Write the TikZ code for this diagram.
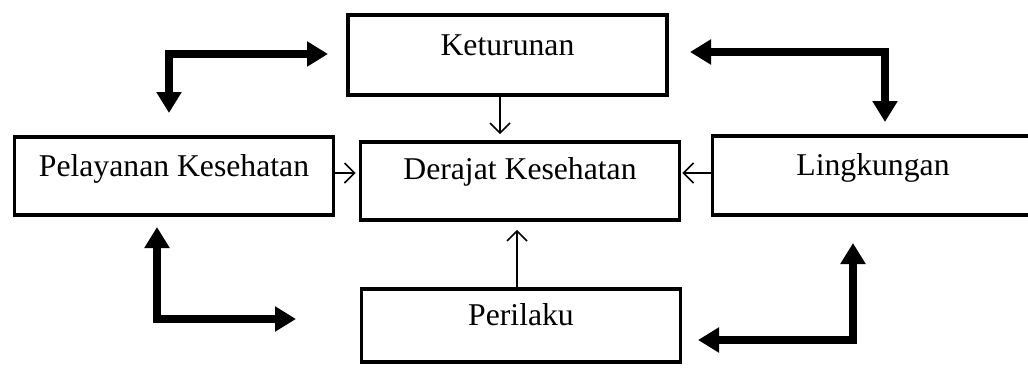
\documentclass[tikz,border=0pt]{standalone}
\usepackage{fontspec}
\setmainfont{Liberation Serif}
\usetikzlibrary{arrows.meta}
\begin{document}
\begin{tikzpicture}[x=1pt,y=-1pt,
  box/.style={draw, line width=3.6pt, rectangle, inner sep=0pt, anchor=base,
    font=\fontsize{31.7pt}{38pt}\selectfont},
  thinarrow/.style={line width=1.7pt, -{Straight Barb[length=10pt,width=20pt]}},
  boldarrow/.style={line width=8.5pt, line join=miter,
    {Triangle[length=21pt,width=24pt]}-{Triangle[length=21pt,width=24pt]}}]
\useasboundingbox (0,0) rectangle (1028,367);
% boxes
\node[box, minimum width=319pt, text height=40pt, text depth=40pt] (ket) at (507.5,55) {Keturunan};
\node[box, minimum width=319pt, text height=39pt, text depth=39pt] (pel) at (174,176) {Pelayanan Kesehatan};
\node[box, minimum width=319pt, text height=37pt, text depth=41pt] (der) at (520,179) {Derajat Kesehatan};
\node[box, minimum width=321pt, text height=39pt, text depth=40pt] (lin) at (873,175) {Lingkungan};
\node[box, minimum width=319pt, text height=36pt, text depth=37pt] (per) at (521,325) {Perilaku};
% thin arrows
\coordinate (kx) at (500,0);
\coordinate (px) at (517,0);
\coordinate (ly) at (0,173);
\draw[thinarrow, shorten >=6pt] (ket.south -| kx) -- (der.north -| kx);
\draw[thinarrow, shorten >=3pt] (pel.east |- ly) -- (der.west |- ly);
\draw[thinarrow, shorten >=1pt] (lin.west |- ly) -- (der.east |- ly);
\draw[thinarrow, shorten >=8pt] (per.north -| px) -- (der.south -| px);
% bold connectors
\coordinate (a1) at (328,54);
\coordinate (a0) at (169,54);
\coordinate (a2) at (169,113);
\draw[boldarrow] (a1) -- (a0) -- (a2);
\coordinate (b1) at (690,52);
\coordinate (b0) at (885,52);
\coordinate (b2) at (885,122);
\draw[boldarrow] (b1) -- (b0) -- (b2);
\coordinate (c1) at (157,227);
\coordinate (c0) at (157,319);
\coordinate (c2) at (296,319);
\draw[boldarrow] (c1) -- (c0) -- (c2);
\coordinate (d1) at (698,340);
\coordinate (d0) at (853,340);
\coordinate (d2) at (853,243);
\draw[boldarrow] (d1) -- (d0) -- (d2);
\end{tikzpicture}
\end{document}
